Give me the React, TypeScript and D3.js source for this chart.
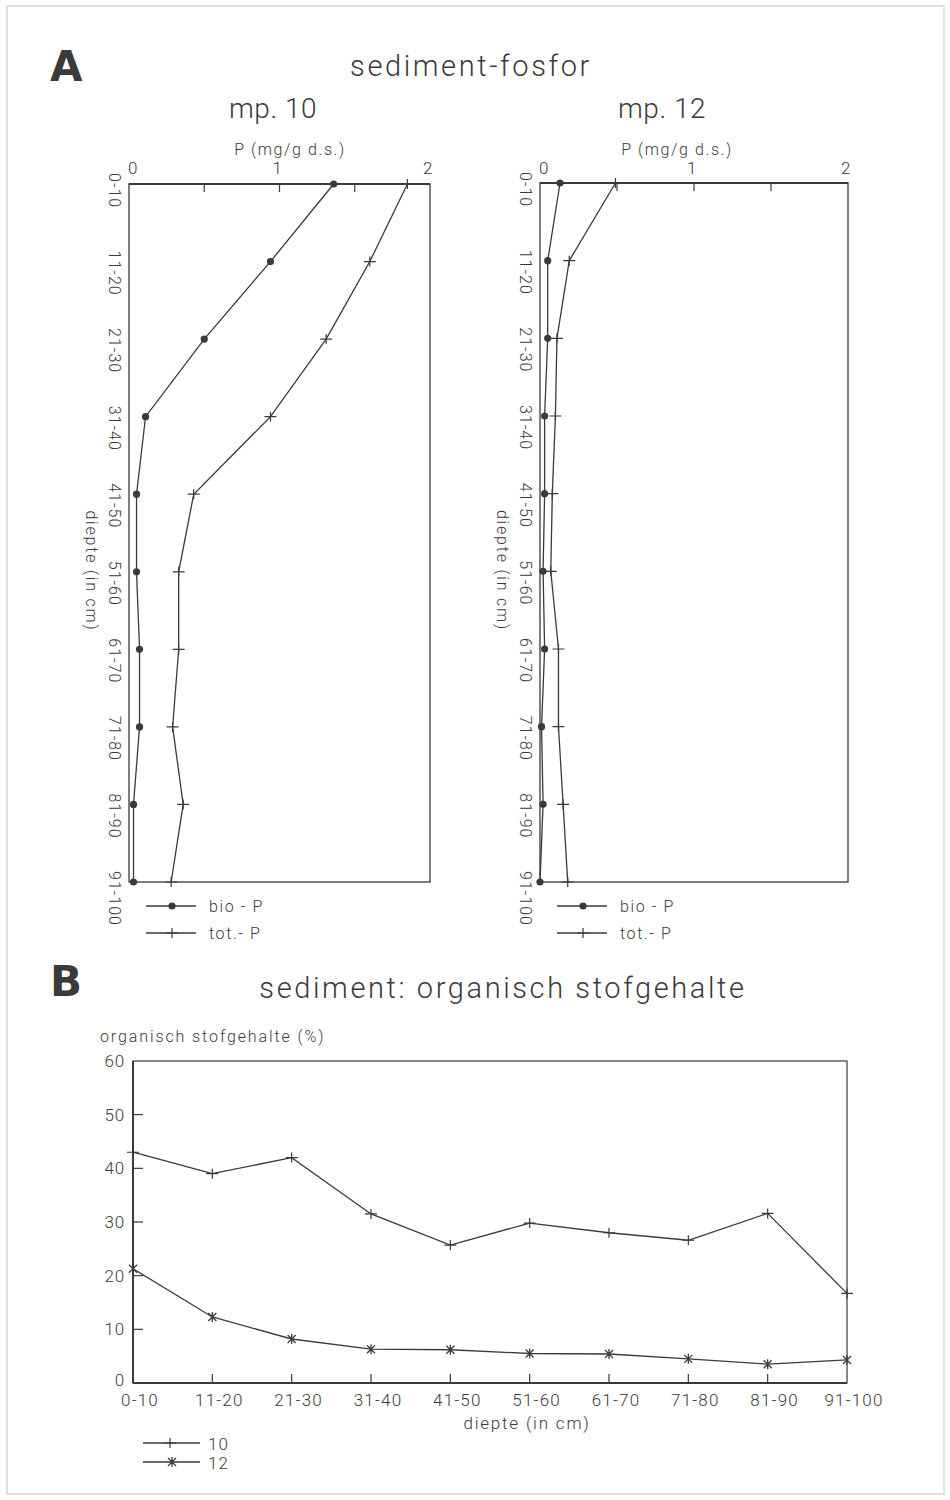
import React, { useEffect, useRef } from 'react';
import * as d3 from 'd3';

// diepte-klassen (cm)
const depths = ['0-10', '11-20', '21-30', '31-40', '41-50', '51-60', '61-70', '71-80', '81-90', '91-100'];

// sediment-fosfor, P (mg/g d.s.)
const bioP10 = [1.36, 0.94, 0.5, 0.11, 0.05, 0.05, 0.07, 0.07, 0.03, 0.03];
const totP10 = [1.85, 1.6, 1.31, 0.94, 0.43, 0.33, 0.33, 0.29, 0.36, 0.28];
const bioP12 = [0.13, 0.05, 0.05, 0.03, 0.03, 0.02, 0.03, 0.01, 0.02, 0.0];
const totP12 = [0.49, 0.19, 0.11, 0.1, 0.08, 0.07, 0.12, 0.12, 0.15, 0.18];
const pTicks = [0, 1, 2];

// organisch stofgehalte (%)
const org10 = [43, 39, 42, 31.5, 25.7, 29.8, 28, 26.6, 31.6, 16.7];
const org12 = [21.3, 12.3, 8.2, 6.3, 6.2, 5.5, 5.4, 4.5, 3.5, 4.3];
const orgTicks = [0, 10, 20, 30, 40, 50, 60];

const width = 950;
const height = 1500;
const ink = '#3a3a3a';
const font = 'Roboto, "DejaVu Sans", sans-serif';

export default function App() {
  const ref = useRef<SVGSVGElement>(null);

  useEffect(() => {
    const svg = d3.select(ref.current);
    svg.selectAll('*').remove();

    svg
      .append('rect')
      .attr('x', 7)
      .attr('y', 6)
      .attr('width', 937)
      .attr('height', 1488)
      .attr('fill', 'white')
      .attr('stroke', '#d6d6d6')
      .attr('stroke-width', 1.5);

    const text = (x: number, y: number, s: string, size: number, anchor = 'start', spacing = 0.8, weight = 300) =>
      svg
        .append('text')
        .attr('x', x)
        .attr('y', y)
        .attr('font-size', size)
        .attr('font-family', font)
        .attr('font-weight', weight)
        .attr('letter-spacing', spacing)
        .attr('fill', ink)
        .attr('text-anchor', anchor)
        .text(s);

    const vtext = (x: number, y: number, s: string, size: number, anchor = 'start', spacing = 0.8) =>
      svg
        .append('text')
        .attr('transform', `translate(${x},${y}) rotate(90)`)
        .attr('font-size', size)
        .attr('font-family', font)
        .attr('font-weight', 300)
        .attr('letter-spacing', spacing)
        .attr('fill', ink)
        .attr('text-anchor', anchor)
        .text(s);

    const dot = (g: any, x: number, y: number) =>
      g.append('circle').attr('cx', x).attr('cy', y).attr('r', 3.6).attr('fill', ink);

    const plus = (g: any, x: number, y: number) =>
      g
        .append('path')
        .attr('d', `M${x - 6},${y}H${x + 6}M${x},${y - 5}V${y + 5}`)
        .attr('stroke', ink)
        .attr('stroke-width', 1.2)
        .attr('fill', 'none');

    const cross = (g: any, x: number, y: number) =>
      g
        .append('path')
        .attr('d', `M${x - 4},${y - 4}L${x + 4},${y + 4}M${x - 4},${y + 4}L${x + 4},${y - 4}M${x},${y - 5}V${y + 5}`)
        .attr('stroke', ink)
        .attr('stroke-width', 1.3)
        .attr('fill', 'none');

    // ---------- A ----------
    text(50, 81, 'A', 42, 'start', 0, 700).attr('font-family', '"DejaVu Sans", sans-serif');
    text(471, 76, 'sediment-fosfor', 29, 'middle', 2.6);

    const drawPanel = (
      left: number,
      right: number,
      top: number,
      bottom: number,
      title: string,
      titleX: number,
      unitX: number,
      bio: number[],
      tot: number[]
    ) => {
      const x = d3.scaleLinear().domain([0, 2]).range([left, right]);
      const y = d3.scalePoint<string>().domain(depths).range([top, bottom]);
      const g = svg.append('g');

      text(titleX, 118, title, 28, 'middle', 0.5);
      text(unitX, 155, 'P (mg/g d.s.)', 16, 'middle', 1.6);

      pTicks.forEach((t) => text(x(t) + (t === 0 ? 4 : -2), 174, String(t), 17, 'middle'));

      g.append('rect')
        .attr('x', left)
        .attr('y', top)
        .attr('width', right - left)
        .attr('height', bottom - top)
        .attr('fill', 'none')
        .attr('stroke', ink)
        .attr('stroke-width', 1.3);
      g.append('line')
        .attr('x1', left)
        .attr('x2', right)
        .attr('y1', top)
        .attr('y2', top)
        .attr('stroke', ink)
        .attr('stroke-width', 2.2);

      [0.5, 1, 1.5].forEach((t) =>
        g
          .append('line')
          .attr('x1', x(t))
          .attr('x2', x(t))
          .attr('y1', top)
          .attr('y2', top + 8)
          .attr('stroke', ink)
          .attr('stroke-width', 1.2)
      );

      depths.forEach((d) => vtext(left - 20, (y(d) as number) - 11, d, 16, 'start', 1));
      vtext(left - 43, (top + bottom) / 2 + 38, 'diepte (in cm)', 16, 'middle', 1.8);

      const line = d3
        .line<number>()
        .x((v) => x(v))
        .y((_, i) => y(depths[i]) as number);

      [bio, tot].forEach((s) =>
        g.append('path').attr('d', line(s)).attr('fill', 'none').attr('stroke', ink).attr('stroke-width', 1.3)
      );
      bio.forEach((v, i) => dot(g, x(v), y(depths[i]) as number));
      tot.forEach((v, i) => plus(g, x(v), y(depths[i]) as number));

      // legend
      const lx = left + 17;
      [
        ['bio - P', 906],
        ['tot.- P', 933],
      ].forEach(([label, ly], k) => {
        g.append('line')
          .attr('x1', lx)
          .attr('x2', lx + 50)
          .attr('y1', ly)
          .attr('y2', ly)
          .attr('stroke', ink)
          .attr('stroke-width', 1.3);
        if (k === 0) dot(g, lx + 26, ly as number);
        else plus(g, lx + 26, ly as number);
        text(lx + 63, (ly as number) + 6, label as string, 16, 'start', 1.6);
      });
    };

    drawPanel(129, 430, 184, 882, 'mp. 10', 273, 290, bioP10, totP10);
    drawPanel(540, 848, 183, 882, 'mp. 12', 662, 677, bioP12, totP12);

    // ---------- B ----------
    text(50, 996, 'B', 42, 'start', 0, 700).attr('font-family', '"DejaVu Sans", sans-serif');
    text(503, 998, 'sediment: organisch stofgehalte', 29, 'middle', 2.6);
    text(100, 1042, 'organisch stofgehalte (%)', 16, 'start', 1.9);

    const bx = d3.scalePoint<string>().domain(depths).range([133, 847]);
    const by = d3.scaleLinear().domain([0, 60]).range([1383, 1061]);
    const gb = svg.append('g');

    gb.append('rect')
      .attr('x', 133)
      .attr('y', 1061)
      .attr('width', 847 - 133)
      .attr('height', 1383 - 1061)
      .attr('fill', 'none')
      .attr('stroke', ink)
      .attr('stroke-width', 1.2);
    gb.append('line')
      .attr('x1', 133)
      .attr('x2', 847)
      .attr('y1', 1383)
      .attr('y2', 1383)
      .attr('stroke', ink)
      .attr('stroke-width', 2);
    gb.append('line')
      .attr('x1', 133)
      .attr('x2', 133)
      .attr('y1', 1061)
      .attr('y2', 1383)
      .attr('stroke', ink)
      .attr('stroke-width', 2);

    orgTicks.forEach((t) => {
      if (t > 0 && t < 60)
        gb.append('line')
          .attr('x1', 133)
          .attr('x2', 143)
          .attr('y1', by(t))
          .attr('y2', by(t))
          .attr('stroke', ink)
          .attr('stroke-width', 1.2);
      text(125, by(t) + (t === 0 ? 3 : 6), String(t), 17, 'end', 0.8);
    });

    depths.forEach((d, i) => {
      const px = bx(d) as number;
      if (i > 0 && i < depths.length - 1)
        gb.append('line')
          .attr('x1', px)
          .attr('x2', px)
          .attr('y1', 1383)
          .attr('y2', 1374)
          .attr('stroke', ink)
          .attr('stroke-width', 1.2);
      text(px + 7, 1406, d, 17, 'middle', 1.2);
    });
    text(527, 1429, 'diepte (in cm)', 17, 'middle', 1.8);

    const bline = d3
      .line<number>()
      .x((_, i) => bx(depths[i]) as number)
      .y((v) => by(v));
    [org10, org12].forEach((s) =>
      gb.append('path').attr('d', bline(s)).attr('fill', 'none').attr('stroke', ink).attr('stroke-width', 1.3)
    );
    org10.forEach((v, i) => plus(gb, bx(depths[i]) as number, by(v)));
    org12.forEach((v, i) => cross(gb, bx(depths[i]) as number, by(v)));

    [
      ['10', 1443],
      ['12', 1462],
    ].forEach(([label, ly], k) => {
      gb.append('line')
        .attr('x1', 143)
        .attr('x2', 200)
        .attr('y1', ly)
        .attr('y2', ly)
        .attr('stroke', ink)
        .attr('stroke-width', 1.3);
      if (k === 0) plus(gb, 170, ly as number);
      else cross(gb, 172, ly as number);
      text(208, (ly as number) + 7, label as string, 17, 'start', 1);
    });
  }, []);

  return (
    <svg
      ref={ref}
      width={width}
      height={height}
      style={{ position: 'absolute', left: 0, top: 0, background: 'white' }}
    />
  );
}
